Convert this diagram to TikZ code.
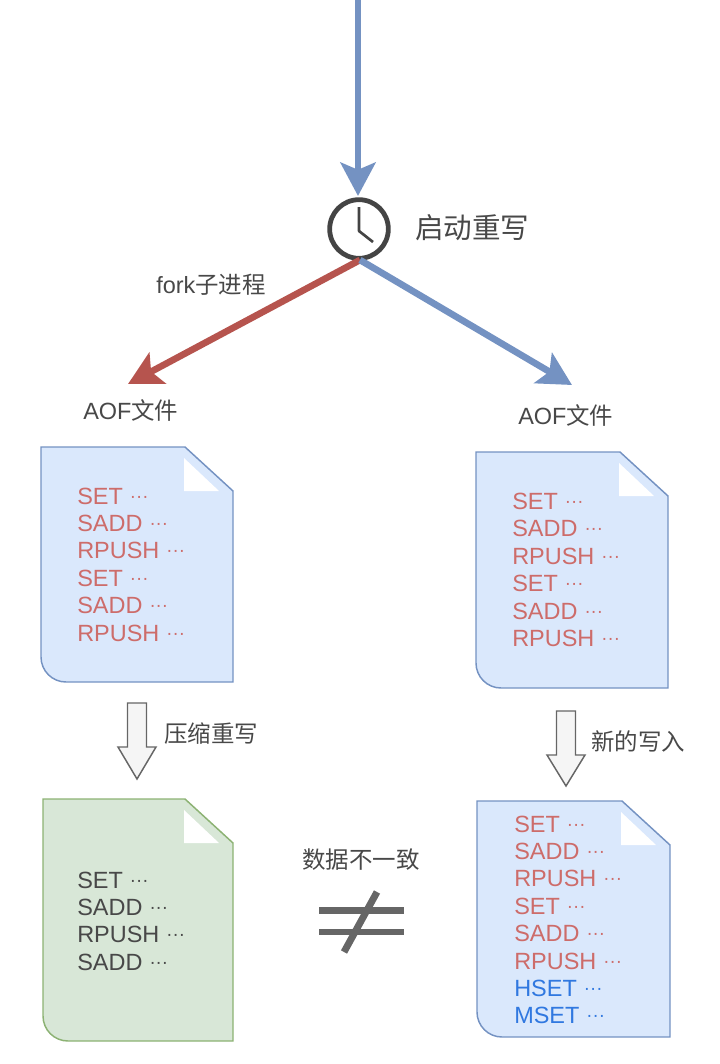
\documentclass[tikz,border=0pt]{standalone}
\usepackage{fontspec}
\setmainfont{Liberation Sans}
\newfontfamily\cjk{Noto Sans CJK SC}
\usetikzlibrary{arrows.meta}
\definecolor{pblue}{RGB}{218,232,252}
\definecolor{lblue}{RGB}{116,146,194}
\definecolor{pgreen}{RGB}{216,231,215}
\definecolor{lgreen}{RGB}{140,178,115}
\definecolor{dred}{RGB}{182,84,78}
\definecolor{tred}{RGB}{205,108,106}
\definecolor{tblue}{RGB}{48,120,224}
\definecolor{tgray}{RGB}{72,72,72}
\definecolor{cgray}{RGB}{68,68,68}
\tikzset{
  lab/.style={inner sep=0pt,text=tgray,font=\fontsize{17.6}{20}\selectfont},
  cmd/.style={inner sep=0pt,anchor=base west,font=\fontsize{17.6}{20}\selectfont},
  flow/.style={line width=5pt,-{Stealth[inset=1.9mm,length=8.8mm,width=9.2mm]}},
  hollow/.style={draw=black!60,fill=black!4,line width=1.1pt},
  neq/.style={draw=black!60,line width=5.2pt},
}
% one page: x0,y0 top left, x1,y1 bottom right
\newcommand{\page}[6]{%
  \draw[line width=1.1pt,draw=#6,fill=#5] (#1,#2)--(#3-48,#2)--(#3,#2+44)--(#3,#4)--(#1+25,#4)
    arc[start angle=90,end angle=180,radius=25]--cycle;
  \fill[white] (#3-49,#2+11)--(#3-49,#2+44)--(#3-14,#2+44)--cycle;
}
% block arrow: x centre, top, neck, tip
\newcommand{\blockdown}[4]{%
  \draw[hollow] (#1-9.5,#2)--(#1+9.5,#2)--(#1+9.5,#3)--(#1+19,#3)--(#1,#4)--(#1-19,#3)--(#1-9.5,#3)--cycle;
}
\newcommand{\more}{\hspace{.3em}\raisebox{1.5pt}{\fontsize{14}{20}\selectfont ···}}
\begin{document}
\begin{tikzpicture}[x=.75pt,y=-.75pt]
\useasboundingbox (0,0) rectangle (720,1064);

% clock
\node[circle,draw=cgray,line width=3.6pt,minimum size=44pt,inner sep=0pt] (clock) at (359,229) {};
\draw[cgray,line width=2pt,line join=round] (359,207)--(359,231)--(373,242);
\node[lab,anchor=west,font=\cjk\fontsize{21.4}{24}\selectfont] (start) at (415,228) {启动重写};

\coordinate (top) at (358,-4);
\coordinate (bottom) at (360,260);
\coordinate (lefttip) at (128,384);
\coordinate (righttip) at (572,385);
\draw[flow,lblue] (top)--(358,196);
\draw[flow,dred] (bottom)--(lefttip);
\draw[flow,lblue] (bottom)--(righttip);

\node[lab,anchor=base west] (fork) at (156,293) {fork{\cjk 子进程}};
\node[lab,anchor=base west] (aofl) at (83,419) {AOF{\cjk 文件}};
\node[lab,anchor=base west] (aofr) at (518,424) {AOF{\cjk 文件}};

% pages
\page{41}{447}{233}{682}{pblue}{lblue}
\page{476}{452}{668}{688}{pblue}{lblue}
\page{43}{799}{233}{1041}{pgreen}{lgreen}
\page{477}{801}{670}{1037}{pblue}{lblue}

\def\dy{27.4}
\foreach \t [count=\i from 0] in {SET,SADD,RPUSH,SET,SADD,RPUSH}{
  \node[cmd,text=tred] (al\i) at (77,504+\i*\dy) {\t\more};
  \node[cmd,text=tred] (ar\i) at (512,509.5+\i*\dy) {\t\more};
  \node[cmd,text=tred] (br\i) at (514,832+\i*\dy) {\t\more};
}
\node[cmd,text=tblue] (br6) at (514,832+6*\dy) {HSET\more};
\node[cmd,text=tblue] (br7) at (514,832+7*\dy) {MSET\more};
\foreach \t [count=\i from 0] in {SET,SADD,RPUSH,SADD}{
  \node[cmd,text=tgray] (bl\i) at (77,888+\i*\dy) {\t\more};
}

% block arrows
\blockdown{137}{703}{747}{779}
\blockdown{566}{711}{755}{786}
\node[lab,anchor=west,font=\cjk\fontsize{17.6}{20}\selectfont] (squeeze) at (164,734) {压缩重写};
\node[lab,anchor=west,font=\cjk\fontsize{17.6}{20}\selectfont] (newwrite) at (591,741) {新的写入};

% not equal
\node[lab,anchor=west,font=\cjk\fontsize{17.6}{20}\selectfont] (differ) at (302,860) {数据不一致};
\draw[neq] (319,910.5)--(404,910.5);
\draw[neq] (319,932)--(404,932);
\draw[neq] (377,892)--(344,952);

\end{tikzpicture}
\end{document}
